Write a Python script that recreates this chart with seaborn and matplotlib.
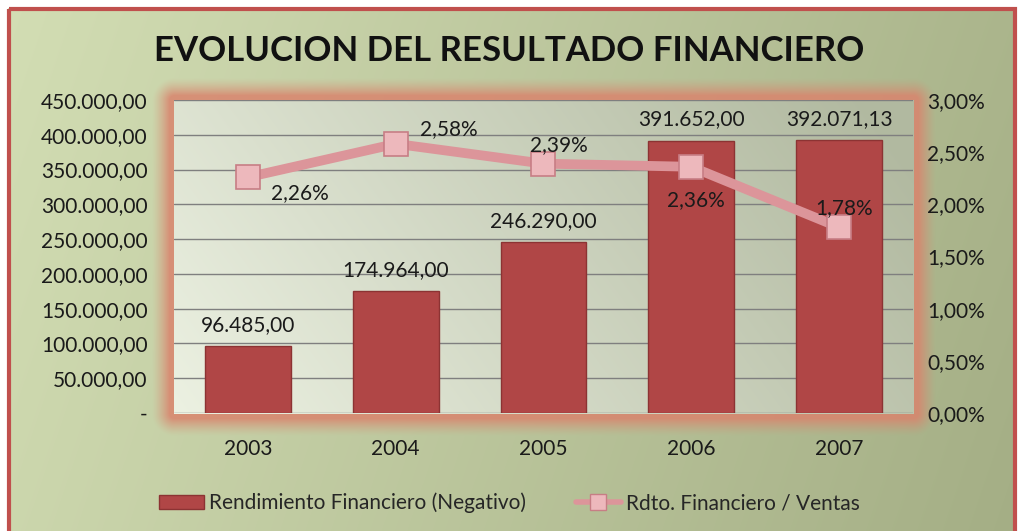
import numpy as np
import seaborn as sns
import matplotlib.pyplot as plt
from matplotlib.colors import to_rgb
from matplotlib.ticker import FuncFormatter
from matplotlib.lines import Line2D
from matplotlib.patches import Patch, Rectangle

# data
years = ['2003', '2004', '2005', '2006', '2007']
rendimiento = [96485.00, 174964.00, 246290.00, 391652.00, 392071.13]
ratio = [2.26, 2.58, 2.39, 2.36, 1.78]

# label offsets (pixels) for the ratio labels, relative to each marker
ratio_offsets = [(52, -16), (53, 15), (15, 19), (5, -33), (5, 19)]

BAR = '#b04646'
BAR_EDGE = '#8c3333'
LINE = '#dc959a'
MARK = '#edb8bc'
MARK_EDGE = '#c77e85'
FONT = 'Lato'
FS = 15


def es_num(v):
    return f"{v:,.2f}".replace(',', 'X').replace('.', ',').replace('X', '.')


def es_pct(v):
    return f"{v:.2f}".replace('.', ',') + '%'


sns.set_theme(style='white')
plt.rcParams['font.family'] = [FONT, 'DejaVu Sans']

W, H = 1018, 531
fig = plt.figure(figsize=(W / 100, H / 100), dpi=100)
fig.patch.set_facecolor('white')

# plot area in pixels (image coords)
px0, px1, py0, py1 = 174, 913, 100, 413

# --- background image: outer gradient, salmon glow, inner plot gradient ---
xx, yy = np.meshgrid(np.arange(W), np.arange(H))
fx = xx / W
fy = yy / H
c_left, c_right = np.array(to_rgb('#d3deb4')), np.array(to_rgb('#a4ae85'))
t = np.clip(fx * 0.85 + fy * 0.15, 0, 1)[..., None]
img = c_left * (1 - t) + c_right * t

dx = np.maximum(np.maximum(px0 - xx, xx - px1), 0)
dy = np.maximum(np.maximum(py0 - yy, yy - py1), 0)
d = np.sqrt(dx ** 2 + dy ** 2)
glow = 0.85 * np.clip(1 - (d - 5) / 18, 0, 1) ** 1.4
glow = glow[..., None]
img = img * (1 - glow) + np.array(to_rgb('#d9846d')) * glow

inside = (xx >= px0) & (xx <= px1) & (yy >= py0) & (yy <= py1)
ix = (xx - px0) / (px1 - px0)
iy = (yy - py0) / (py1 - py0)
p_left, p_right = np.array(to_rgb('#ecf1e2')), np.array(to_rgb('#b1b9a0'))
ti = np.clip(ix * 0.8 + (1 - iy) * 0.25, 0, 1)[..., None]
inner = p_left * (1 - ti) + p_right * ti
img = np.where(inside[..., None], inner, img)

outside = (xx < 8) | (yy < 8) | (xx > 1015)
img[outside] = 1.0

bg = fig.add_axes([0, 0, 1, 1], zorder=-10)
bg.imshow(img, extent=(0, W, H, 0), aspect='auto', interpolation='bilinear')
bg.add_patch(Rectangle((9, 9), 1006, H, fill=False, edgecolor='#c0504d', linewidth=3))
bg.set_xlim(0, W)
bg.set_ylim(H, 0)
bg.axis('off')

# --- main axes ---
ax = fig.add_axes([px0 / W, 1 - py1 / H, (px1 - px0) / W, (py1 - py0) / H])
ax.patch.set_alpha(0)
sns.barplot(x=years, y=rendimiento, ax=ax, color=BAR, saturation=1,
            width=0.58, edgecolor=BAR_EDGE, linewidth=1, zorder=3)
ax.set_ylim(0, 450000)
ax.set_yticks(np.arange(0, 450001, 50000))
ax.yaxis.set_major_formatter(FuncFormatter(lambda v, p: '-' if v == 0 else es_num(v)))
ax.yaxis.grid(True, color='#7f7f7f', linewidth=1)
ax.set_axisbelow(True)
for s in ax.spines.values():
    s.set_visible(False)
ax.tick_params(axis='y', length=0, pad=19, labelsize=FS, labelcolor='#1a1a1a')
ax.tick_params(axis='x', length=0, pad=19, labelsize=FS, labelcolor='#1a1a1a')
ax.set_xlabel('')
ax.set_ylabel('')

for i, v in enumerate(rendimiento):
    ax.annotate(es_num(v), (i, v), xytext=(0, 11), textcoords='offset pixels',
                ha='center', va='bottom', fontsize=FS, color='#1a1a1a')

# --- secondary axis: ratio line ---
ax2 = ax.twinx()
ax2.patch.set_alpha(0)
sns.lineplot(x=list(range(len(years))), y=ratio, ax=ax2, color=LINE, linewidth=7,
             marker='s', markersize=17, markerfacecolor=MARK,
             markeredgecolor=MARK_EDGE, markeredgewidth=1.2, zorder=4)
ax2.set_ylim(0, 3)
ax2.set_yticks(np.arange(0, 3.01, 0.5))
ax2.yaxis.set_major_formatter(FuncFormatter(lambda v, p: es_pct(v)))
ax2.grid(False)
for s in ax2.spines.values():
    s.set_visible(False)
ax2.tick_params(axis='y', length=0, pad=10, labelsize=FS, labelcolor='#1a1a1a')
ax2.set_ylabel('')
ax.set_xlim(-0.5, len(years) - 0.5)

for i, v in enumerate(ratio):
    ox, oy = ratio_offsets[i]
    ax2.annotate(es_pct(v), (i, v), xytext=(ox, oy), textcoords='offset pixels',
                 ha='center', va='center', fontsize=FS, color='#1a1a1a', zorder=5)

# --- title ---
fig.text(0.5, 1 - 51 / H, 'EVOLUCION DEL RESULTADO FINANCIERO', ha='center', va='center',
         fontsize=25, fontweight='bold', color='#111111')

# --- legend ---
handles = [
    Patch(facecolor=BAR, edgecolor=BAR_EDGE),
    Line2D([], [], color=LINE, linewidth=4, marker='s', markersize=11,
           markerfacecolor=MARK, markeredgecolor=MARK_EDGE),
]
labels = ['Rendimiento Financiero (Negativo)', 'Rdto. Financiero / Ventas']
fig.legend(handles, labels, loc='center', bbox_to_anchor=(0.5, 1 - 503 / H), ncol=2,
           frameon=False, fontsize=FS, columnspacing=2.4, handlelength=2.2,
           handletextpad=0.2, handleheight=0.6)

fig.savefig('out.png', dpi=100)
